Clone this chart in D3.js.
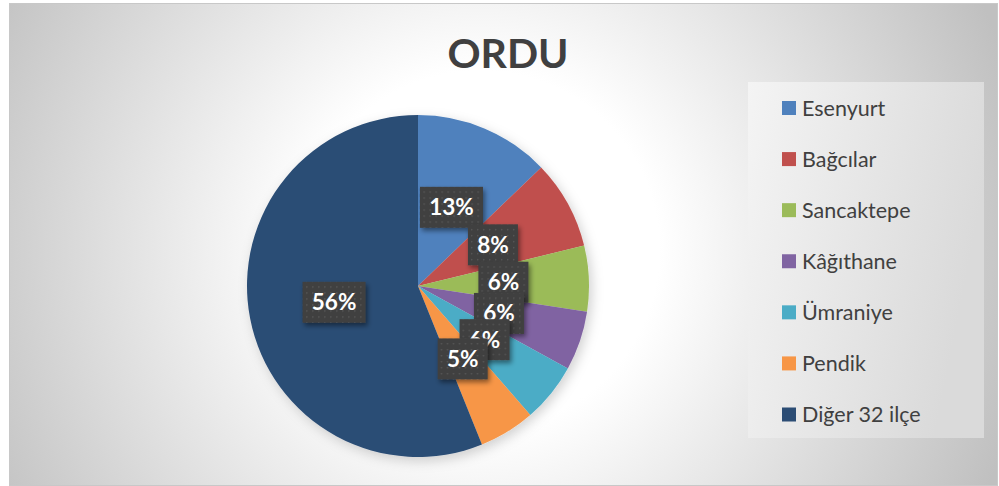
<!DOCTYPE html>
<html>
<head>
<meta charset="utf-8">
<script src="https://cdn.jsdelivr.net/npm/d3@7"></script>
<style>
  body { margin: 0; background: #fff; overflow: hidden; }
</style>
</head>
<body>
<script>
const width = 999;
const height = 486;

const titleText = "ORDU";
const categories = ["Esenyurt", "Bağcılar", "Sancaktepe", "Kâğıthane", "Ümraniye", "Pendik", "Diğer 32 ilçe"];
const shares = [12.8, 8.4, 6.2, 5.6, 5.6, 5.3, 56.1];
const colors = ["#4f81bd", "#c0504d", "#9bbb59", "#8064a2", "#4bacc6", "#f79646", "#2c4d75"];

const svg = d3.select("body")
  .append("svg")
  .attr("width", width)
  .attr("height", height)
  .style("display", "block");

const defs = svg.append("defs");

const bg = defs.append("radialGradient")
  .attr("id", "bg")
  .attr("gradientUnits", "userSpaceOnUse")
  .attr("cx", 480).attr("cy", 250).attr("r", 560);
bg.append("stop").attr("offset", 0).attr("stop-color", "#ffffff");
bg.append("stop").attr("offset", 0.32).attr("stop-color", "#ffffff");
bg.append("stop").attr("offset", 1).attr("stop-color", "#c0c0c0");

const legendGrad = defs.append("linearGradient")
  .attr("id", "legendBg")
  .attr("x1", 0).attr("y1", 0).attr("x2", 1).attr("y2", 0.3);
legendGrad.append("stop").attr("offset", 0).attr("stop-color", "#f4f4f4");
legendGrad.append("stop").attr("offset", 1).attr("stop-color", "#dadada");

const dots = defs.append("pattern")
  .attr("id", "dots")
  .attr("patternUnits", "userSpaceOnUse")
  .attr("width", 6).attr("height", 6);
dots.append("rect").attr("width", 6).attr("height", 6).attr("fill", "#3f3f3f");
dots.append("rect").attr("x", 2).attr("y", 2).attr("width", 1.5).attr("height", 1.5).attr("fill", "#575757");

const shadow = defs.append("filter")
  .attr("id", "shadow")
  .attr("x", "-30%").attr("y", "-30%").attr("width", "160%").attr("height", "160%");
shadow.append("feDropShadow")
  .attr("dx", 2).attr("dy", 3).attr("stdDeviation", 2.5)
  .attr("flood-color", "#000").attr("flood-opacity", 0.45);

const pieShadow = defs.append("filter")
  .attr("id", "pieShadow")
  .attr("x", "-20%").attr("y", "-20%").attr("width", "140%").attr("height", "140%");
pieShadow.append("feDropShadow")
  .attr("dx", 3).attr("dy", 4).attr("stdDeviation", 6)
  .attr("flood-color", "#000").attr("flood-opacity", 0.18);

// chart area
svg.append("rect")
  .attr("x", 9.5).attr("y", 3.5)
  .attr("width", 988).attr("height", 482)
  .attr("fill", "url(#bg)")
  .attr("stroke", "#c8c8c8")
  .attr("stroke-width", 1);

svg.append("text")
  .attr("x", 508)
  .attr("y", 68)
  .attr("text-anchor", "middle")
  .attr("font-family", "Lato, 'Open Sans', sans-serif")
  .attr("font-weight", 700)
  .attr("font-size", 41)
  .attr("fill", "#404040")
  .text(titleText);

// pie
const cx = 418, cy = 286, radius = 171;
const pie = d3.pie().sort(null).value(d => d);
const arcs = pie(shares);
const arc = d3.arc().innerRadius(0).outerRadius(radius);

const g = svg.append("g").attr("transform", `translate(${cx},${cy})`);

g.append("g")
  .attr("filter", "url(#pieShadow)")
  .selectAll("path")
  .data(arcs)
  .join("path")
  .attr("d", arc)
  .attr("fill", (d, i) => colors[i]);

const labels = g.append("g")
  .selectAll("g")
  .data(arcs)
  .join("g")
  .attr("transform", d => `translate(${arc.centroid(d)})`);

labels.each(function (d) {
  const sel = d3.select(this);
  const txt = Math.round(d.data) + "%";
  const w = txt.length === 3 ? 63 : 50;
  sel.append("rect")
    .attr("x", -w / 2).attr("y", -20.5)
    .attr("width", w).attr("height", 41)
    .attr("fill", "url(#dots)")
    .attr("filter", "url(#shadow)");
  sel.append("text")
    .attr("text-anchor", "middle")
    .attr("y", 8)
    .attr("font-family", "Lato, 'Open Sans', sans-serif")
    .attr("font-weight", 700)
    .attr("font-size", 22.5)
    .attr("fill", "#ffffff")
    .text(txt);
});

// legend
svg.append("rect")
  .attr("x", 748).attr("y", 82)
  .attr("width", 236).attr("height", 356)
  .attr("fill", "url(#legendBg)");

const legendY = d3.scalePoint()
  .domain(categories)
  .range([108, 414.5]);

const legend = svg.append("g")
  .selectAll("g")
  .data(categories)
  .join("g")
  .attr("transform", d => `translate(782,${legendY(d)})`);

legend.append("rect")
  .attr("x", 0).attr("y", -7)
  .attr("width", 14).attr("height", 14)
  .attr("fill", (d, i) => colors[i]);

legend.append("text")
  .attr("x", 20)
  .attr("y", 7.5)
  .attr("font-family", "Lato, 'Open Sans', sans-serif")
  .attr("font-size", 21.5)
  .attr("fill", "#404040")
  .text(d => d);
</script>
</body>
</html>
